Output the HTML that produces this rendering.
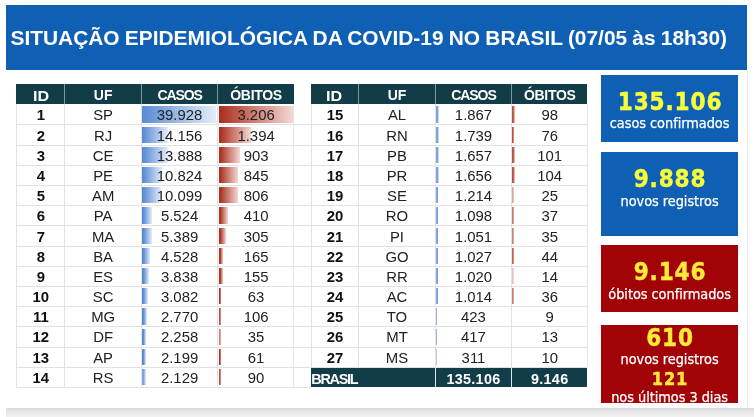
<!DOCTYPE html>
<html lang="pt-BR"><head><meta charset="utf-8"><title>Situação epidemiológica da COVID-19 no Brasil</title>
<style>
html,body{margin:0;padding:0;background:#fff;}
body{width:754px;height:417px;position:relative;overflow:hidden;font-family:"Liberation Sans",sans-serif;}
.banner{position:absolute;left:6px;top:5px;width:741px;height:65px;background:#0f5fb5;color:#fff;font-weight:bold;font-size:20.9px;line-height:65px;white-space:nowrap;}
.banner span{position:absolute;left:4.5px;top:0.1px;word-spacing:-0.6px;}
.tbl{position:absolute;top:84.4px;font-size:14.9px;color:#222;}
.t1x{left:16.4px;width:277.6px;}
.t2x{left:310.7px;width:276.6px;}
.tbl span{position:absolute;top:0;height:100%;text-align:center;box-sizing:border-box;}
.hd{position:relative;height:20px;background:#123c47;color:#fff;font-weight:bold;line-height:22.5px;font-size:14px;}
.hd .c1 em{font-style:normal;display:inline-block;transform:scaleX(1.15);position:relative;top:1px;}
.t1x .hd .c1{padding-left:1.2px;} .hd .c3{letter-spacing:-1.1px;} .hd .c4{letter-spacing:-0.3px;}
.r{position:relative;height:20.2px;line-height:23.7px;}
.r:after{content:"";position:absolute;left:0;right:0;bottom:-0.9px;height:1px;background:#e2e2e2;}
.t1x .c1{left:0;width:47.9px;} .t1x .c2{left:47.9px;width:76.7px;} .t1x .c3{left:124.6px;width:76.2px;} .t1x .c4{left:200.8px;width:76.8px;}
.t2x .c1{left:0;width:47.5px;} .t2x .c2{left:47.5px;width:76.6px;} .t2x .c3{left:124.1px;width:76.4px;} .t2x .c4{left:200.5px;width:76.1px;}
.hd span{border-left:1px solid #7f979d;} .hd .c1{border-left:0;}
.r span{border-left:1px solid #e2e2e2;}
.r .c1{font-weight:bold;color:#111;}
.r b{position:relative;font-weight:normal;}
.r i{position:absolute;left:0;top:2.1px;bottom:1.9px;}
.r .c4 i{left:0.8px;}
.t2x .r .c3 i{left:0.2px;} .t2x .r .c4 i{left:0.3px;}
.bb{background:linear-gradient(90deg,#5b8dd5 0,#5b8dd5 1.5px,#e4edf9 100%);}
.rb{background:linear-gradient(90deg,#ab3120 0,#ab3120 1.2px,#f4d8d4 100%);}
.tot{position:relative;top:0.9px;height:19.3px;background:#123c47;color:#fff;font-weight:bold;line-height:22.2px;font-size:14.4px;}
.tot .t1{left:0.6px;text-align:left;letter-spacing:-1.25px;}
.tot .c3,.tot .c4{letter-spacing:0.3px;}
.tot .c3,.tot .c4{border-left:1px solid #dfe6e8;}
.box{position:absolute;left:601px;width:137.2px;color:#fff;text-align:center;overflow:hidden;}
.box .n{position:absolute;left:0;width:100%;font-family:"DejaVu Sans Condensed","DejaVu Sans",sans-serif;font-stretch:condensed;font-weight:bold;color:#ffff36;-webkit-text-stroke:0.45px #ffff36;white-space:nowrap;font-size:24px;line-height:28px;letter-spacing:0.9px;text-indent:0.9px;}
.box .n.s{font-size:18px;line-height:22px;}
.box .l{position:absolute;left:0;width:100%;font-family:"DejaVu Sans Condensed","DejaVu Sans",sans-serif;font-stretch:condensed;font-size:14.4px;line-height:18px;white-space:nowrap;letter-spacing:-0.05px;-webkit-text-stroke:0.25px #fff;}
.bl .n{color:#f8ff3a;-webkit-text-stroke-color:#f8ff3a;} .rd .n{color:#ffea38;-webkit-text-stroke-color:#ffea38;}
.bl{background:#0f5fb5;} .rd{background:#a20307;}
.foot{position:absolute;left:6px;top:408.4px;width:748px;height:9px;background:linear-gradient(180deg,#d6d6d6 0,#e4e4e4 2px,#ebebeb 6px,#f1f1f1 9px);}
.gap{position:absolute;left:294px;top:104.5px;width:17px;height:283.5px;background:repeating-linear-gradient(180deg,transparent 0,transparent 19.25px,#ececec 19.25px,#ececec 20.25px);}
.t1x .r:after{right:-17px;}
.t2x .r:before{right:-0.4px;}
.r:before{content:"";position:absolute;right:0;top:0;bottom:0;width:1px;background:#e6e6e6;}
.vr{position:absolute;left:747px;top:70px;width:1px;height:338px;background:#ececec;}
</style></head><body>
<div class="banner"><span>SITUAÇÃO EPIDEMIOLÓGICA DA COVID-19 NO BRASIL (07/05 às 18h30)</span></div>
<div class="tbl t1x">
<div class="hd"><span class="c1"><em>ID</em></span><span class="c2">UF</span><span class="c3">CASOS</span><span class="c4">ÓBITOS</span></div>
<div class="r"><span class="c1">1</span><span class="c2">SP</span><span class="c3"><i class="bb" style="width:74.0px"></i><b>39.928</b></span><span class="c4"><i class="rb" style="width:73.8px"></i><b>3.206</b></span></div>
<div class="r"><span class="c1">2</span><span class="c2">RJ</span><span class="c3"><i class="bb" style="width:26.2px"></i><b>14.156</b></span><span class="c4"><i class="rb" style="width:32.1px"></i><b>1.394</b></span></div>
<div class="r"><span class="c1">3</span><span class="c2">CE</span><span class="c3"><i class="bb" style="width:25.7px"></i><b>13.888</b></span><span class="c4"><i class="rb" style="width:20.8px"></i><b>903</b></span></div>
<div class="r"><span class="c1">4</span><span class="c2">PE</span><span class="c3"><i class="bb" style="width:20.1px"></i><b>10.824</b></span><span class="c4"><i class="rb" style="width:19.5px"></i><b>845</b></span></div>
<div class="r"><span class="c1">5</span><span class="c2">AM</span><span class="c3"><i class="bb" style="width:18.7px"></i><b>10.099</b></span><span class="c4"><i class="rb" style="width:18.6px"></i><b>806</b></span></div>
<div class="r"><span class="c1">6</span><span class="c2">PA</span><span class="c3"><i class="bb" style="width:10.2px"></i><b>5.524</b></span><span class="c4"><i class="rb" style="width:9.4px"></i><b>410</b></span></div>
<div class="r"><span class="c1">7</span><span class="c2">MA</span><span class="c3"><i class="bb" style="width:10.0px"></i><b>5.389</b></span><span class="c4"><i class="rb" style="width:7.0px"></i><b>305</b></span></div>
<div class="r"><span class="c1">8</span><span class="c2">BA</span><span class="c3"><i class="bb" style="width:8.4px"></i><b>4.528</b></span><span class="c4"><i class="rb" style="width:3.8px"></i><b>165</b></span></div>
<div class="r"><span class="c1">9</span><span class="c2">ES</span><span class="c3"><i class="bb" style="width:7.1px"></i><b>3.838</b></span><span class="c4"><i class="rb" style="width:3.6px"></i><b>155</b></span></div>
<div class="r"><span class="c1">10</span><span class="c2">SC</span><span class="c3"><i class="bb" style="width:5.7px"></i><b>3.082</b></span><span class="c4"><i class="rb" style="width:1.7px;opacity:1.00"></i><b>63</b></span></div>
<div class="r"><span class="c1">11</span><span class="c2">MG</span><span class="c3"><i class="bb" style="width:5.1px"></i><b>2.770</b></span><span class="c4"><i class="rb" style="width:2.4px;opacity:0.85"></i><b>106</b></span></div>
<div class="r"><span class="c1">12</span><span class="c2">DF</span><span class="c3"><i class="bb" style="width:4.2px"></i><b>2.258</b></span><span class="c4"><i class="rb" style="width:1.7px;opacity:0.62"></i><b>35</b></span></div>
<div class="r"><span class="c1">13</span><span class="c2">AP</span><span class="c3"><i class="bb" style="width:4.1px"></i><b>2.199</b></span><span class="c4"><i class="rb" style="width:1.7px;opacity:1.00"></i><b>61</b></span></div>
<div class="r"><span class="c1">14</span><span class="c2">RS</span><span class="c3"><i class="bb" style="width:3.9px;opacity:0.8"></i><b>2.129</b></span><span class="c4"><i class="rb" style="width:2.1px;opacity:0.85"></i><b>90</b></span></div>
</div>
<div class="tbl t2x">
<div class="hd"><span class="c1"><em>ID</em></span><span class="c2">UF</span><span class="c3">CASOS</span><span class="c4">ÓBITOS</span></div>
<div class="r"><span class="c1">15</span><span class="c2">AL</span><span class="c3"><i class="bb" style="width:3.5px;opacity:0.8"></i><b>1.867</b></span><span class="c4"><i class="rb" style="width:2.3px;opacity:0.85"></i><b>98</b></span></div>
<div class="r"><span class="c1">16</span><span class="c2">RN</span><span class="c3"><i class="bb" style="width:3.2px;opacity:0.8"></i><b>1.739</b></span><span class="c4"><i class="rb" style="width:1.7px;opacity:0.85"></i><b>76</b></span></div>
<div class="r"><span class="c1">17</span><span class="c2">PB</span><span class="c3"><i class="bb" style="width:3.1px;opacity:0.8"></i><b>1.657</b></span><span class="c4"><i class="rb" style="width:2.3px;opacity:0.85"></i><b>101</b></span></div>
<div class="r"><span class="c1">18</span><span class="c2">PR</span><span class="c3"><i class="bb" style="width:3.1px;opacity:0.8"></i><b>1.656</b></span><span class="c4"><i class="rb" style="width:2.4px;opacity:0.85"></i><b>104</b></span></div>
<div class="r"><span class="c1">19</span><span class="c2">SE</span><span class="c3"><i class="bb" style="width:2.2px;opacity:0.8"></i><b>1.214</b></span><span class="c4"><i class="rb" style="width:1.7px;opacity:0.44"></i><b>25</b></span></div>
<div class="r"><span class="c1">20</span><span class="c2">RO</span><span class="c3"><i class="bb" style="width:2.0px;opacity:0.8"></i><b>1.098</b></span><span class="c4"><i class="rb" style="width:1.7px;opacity:0.66"></i><b>37</b></span></div>
<div class="r"><span class="c1">21</span><span class="c2">PI</span><span class="c3"><i class="bb" style="width:1.9px;opacity:0.8"></i><b>1.051</b></span><span class="c4"><i class="rb" style="width:1.7px;opacity:0.62"></i><b>35</b></span></div>
<div class="r"><span class="c1">22</span><span class="c2">GO</span><span class="c3"><i class="bb" style="width:1.9px;opacity:0.8"></i><b>1.027</b></span><span class="c4"><i class="rb" style="width:1.7px;opacity:0.78"></i><b>44</b></span></div>
<div class="r"><span class="c1">23</span><span class="c2">RR</span><span class="c3"><i class="bb" style="width:1.9px;opacity:0.8"></i><b>1.020</b></span><span class="c4"><i class="rb" style="width:1.7px;opacity:0.30"></i><b>14</b></span></div>
<div class="r"><span class="c1">24</span><span class="c2">AC</span><span class="c3"><i class="bb" style="width:1.9px;opacity:0.8"></i><b>1.014</b></span><span class="c4"><i class="rb" style="width:1.7px;opacity:0.64"></i><b>36</b></span></div>
<div class="r"><span class="c1">25</span><span class="c2">TO</span><span class="c3"><i class="bb" style="width:1.2px;opacity:0.65"></i><b>423</b></span><span class="c4"><i class="rb" style="width:0.2px;display:none"></i><b>9</b></span></div>
<div class="r"><span class="c1">26</span><span class="c2">MT</span><span class="c3"><i class="bb" style="width:1.2px;opacity:0.64"></i><b>417</b></span><span class="c4"><i class="rb" style="width:0.3px;display:none"></i><b>13</b></span></div>
<div class="r"><span class="c1">27</span><span class="c2">MS</span><span class="c3"><i class="bb" style="width:1.2px;opacity:0.48"></i><b>311</b></span><span class="c4"><i class="rb" style="width:0.2px;display:none"></i><b>10</b></span></div>
<div class="tot"><span class="t1">BRASIL</span><span class="c3">135.106</span><span class="c4">9.146</span></div>
</div>
<div class="box bl" style="top:75.1px;height:67.1px"><div class="n" style="top:13.3px">135.106</div><div class="l" style="top:39.3px">casos confirmados</div></div>
<div class="box bl" style="top:151.5px;height:84.4px"><div class="n" style="top:13.6px">9.888</div><div class="l" style="top:40.3px">novos registros</div></div>
<div class="box rd" style="top:245.3px;height:66.9px"><div class="n" style="top:12.4px">9.146</div><div class="l" style="top:40px">óbitos confirmados</div></div>
<div class="box rd" style="top:324.6px;height:78px"><div class="n" style="top:-0.6px">610</div><div class="l" style="top:25.6px">novos registros</div><div class="n s" style="top:43px">121</div><div class="l" style="top:63.6px">nos últimos 3 dias</div></div>
<div class="vr"></div>
<div class="foot"></div>
</body></html>
